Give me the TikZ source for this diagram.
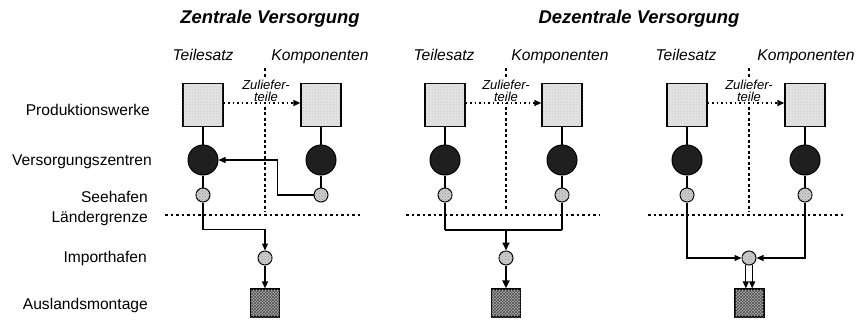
\documentclass[tikz,border=0pt]{standalone}
\usepackage{fontspec}
\setmainfont{Liberation Sans}
\usetikzlibrary{arrows.meta,patterns}

\tikzset{
  plant/.style={draw, line width=1.3pt, fill=gray!22, minimum width=40pt, minimum height=43pt, inner sep=0pt,
    postaction={pattern=dots, pattern color=gray!70}},
  hub/.style={circle, draw, line width=1pt, fill=black!88, minimum size=30pt, inner sep=0pt},
  port/.style={circle, draw, line width=1pt, fill=gray!40, minimum size=14pt, inner sep=0pt,
    postaction={pattern=crosshatch dots, pattern color=gray!80}},
  assembly/.style={draw, line width=1.2pt, fill=gray!65, minimum width=29pt, minimum height=28pt, inner sep=0pt,
    postaction={pattern=crosshatch, pattern color=black!70}},
  flow/.style={line width=1.2pt},
  heavy/.style={line width=2pt},
  tip/.style={-{Triangle[length=7pt,width=6pt]}},
  bigtip/.style={-{Triangle[length=8pt,width=7pt]}},
  supply/.style={line width=1.3pt, dash pattern=on 1.5pt off 3pt},
  divider/.style={line width=1.2pt, dash pattern=on 3pt off 2.5pt},
  border/.style={line width=1.3pt, dash pattern=on 2.5pt off 3pt},
  rowlabel/.style={anchor=base east, font=\fontsize{15.6}{17}\selectfont, inner sep=0pt},
  title/.style={anchor=base, font=\fontsize{18.4}{20}\selectfont\bfseries\itshape, inner sep=0pt},
  colhead/.style={anchor=base, font=\fontsize{15.6}{17}\selectfont\itshape, inner sep=0pt},
  partlabel/.style={align=center, font=\fontsize{13}{12.5}\selectfont\itshape, inner sep=0.5pt, fill=white}
}

\begin{document}
\begin{tikzpicture}[x=1pt,y=-1pt]
\useasboundingbox (0,0) rectangle (858,321);

% titles
\node[title] (tz) at (270,24) {Zentrale Versorgung};
\node[title] (td) at (639,24) {Dezentrale Versorgung};

% column heads
\node[colhead] (h1t) at (203,60) {Teilesatz};
\node[colhead] (h1k) at (320,60) {Komponenten};
\node[colhead] (h2t) at (444,60) {Teilesatz};
\node[colhead] (h2k) at (560,60) {Komponenten};
\node[colhead] (h3t) at (686,60) {Teilesatz};
\node[colhead] (h3k) at (806,60) {Komponenten};

% row labels
\node[rowlabel] (lp) at (150,115) {Produktionswerke};
\node[rowlabel] (lv) at (152,165) {Versorgungszentren};
\node[rowlabel] (ls) at (148,202) {Seehafen};
\node[rowlabel] (lg) at (148,222) {Ländergrenze};
\node[rowlabel] (li) at (147,262) {Importhafen};
\node[rowlabel] (la) at (148,309) {Auslandsmontage};

% ---------- central supply ----------
\coordinate (v1a) at (265,68);
\coordinate (v1b) at (265,212);
\draw[divider] (v1a) -- (v1b);
\coordinate (g1a) at (165,215);
\coordinate (g1b) at (362,215);
\draw[border] (g1a) -- (g1b);

\node[plant] (P1T) at (203,105) {};
\node[plant] (P1K) at (321,105) {};
\node[hub] (H1T) at (203,160) {};
\node[hub] (H1K) at (321,160) {};
\node[port] (S1T) at (203,195) {};
\node[port] (S1K) at (321,195) {};
\node[port] (I1) at (265,258) {};
\node[assembly] (A1) at (265,303) {};

\node[partlabel] (z1) at (266,91) {Zuliefer-\\teile};
\draw[supply, tip] ([yshift=2pt]P1T.east) -- ([yshift=2pt]P1K.west);
\draw[flow] (P1T) -- (H1T);
\draw[flow] (P1K) -- (H1K);
\draw[flow] (H1T) -- (S1T);
\draw[flow] (H1K) -- (S1K);
\draw[flow, tip] (S1K.west) -- ++(-36,0) |- (H1T.east);
\draw[flow, tip] (S1T.south) -- ++(0,27) -| (I1.north);
\draw[flow, tip] (I1.south) -- (A1.north);

% ---------- decentral supply, joint import ----------
\coordinate (v2a) at (506,68);
\coordinate (v2b) at (506,210);
\draw[divider] (v2a) -- (v2b);
\coordinate (g2a) at (406,215);
\coordinate (g2b) at (600,215);
\draw[border] (g2a) -- (g2b);

\node[plant] (P2T) at (445,105) {};
\node[plant] (P2K) at (562,105) {};
\node[hub] (H2T) at (445,160) {};
\node[hub] (H2K) at (562,160) {};
\node[port] (S2T) at (445,195) {};
\node[port] (S2K) at (562,195) {};
\node[port] (I2) at (506,258) {};
\node[assembly] (A2) at (506,303) {};

\node[partlabel] (z2) at (506,91) {Zuliefer-\\teile};
\draw[supply, tip] ([yshift=2pt]P2T.east) -- ([yshift=2pt]P2K.west);
\draw[flow] (P2T) -- (H2T);
\draw[flow] (P2K) -- (H2K);
\draw[flow] (H2T) -- (S2T);
\draw[flow] (H2K) -- (S2K);
\draw[flow] (S2T.south) -- ++(0,27) coordinate (j2t);
\draw[flow] (S2K.south) -- ++(0,27) coordinate (j2k);
\draw[heavy] (j2t) -- (j2k);
\draw[heavy, bigtip] (j2t -| I2) -- (I2.north);
\draw[heavy, bigtip] (I2.south) -- (A2.north);

% ---------- decentral supply, separate import ----------
\coordinate (v3a) at (749,68);
\coordinate (v3b) at (749,212);
\draw[divider] (v3a) -- (v3b);
\coordinate (g3a) at (648,215);
\coordinate (g3b) at (843,215);
\draw[border] (g3a) -- (g3b);

\node[plant] (P3T) at (687,105) {};
\node[plant] (P3K) at (805,105) {};
\node[hub] (H3T) at (687,160) {};
\node[hub] (H3K) at (805,160) {};
\node[port] (S3T) at (687,195) {};
\node[port] (S3K) at (805,195) {};
\node[port] (I3) at (749,258) {};
\node[assembly] (A3) at (749.5,303) {};

\node[partlabel] (z3) at (749,91) {Zuliefer-\\teile};
\draw[supply, tip] ([yshift=2pt]P3T.east) -- ([yshift=2pt]P3K.west);
\draw[flow] (P3T) -- (H3T);
\draw[flow] (P3K) -- (H3K);
\draw[flow] (H3T) -- (S3T);
\draw[flow] (H3K) -- (S3K);
\draw[flow, tip] (S3T.south) |- (I3.west);
\draw[flow, tip] (S3K.south) |- (I3.east);
\draw[flow, tip] (I3.-115) -- (I3.-115 |- A3.north);
\draw[flow, tip] (I3.-65) -- (I3.-65 |- A3.north);
\end{tikzpicture}
\end{document}
